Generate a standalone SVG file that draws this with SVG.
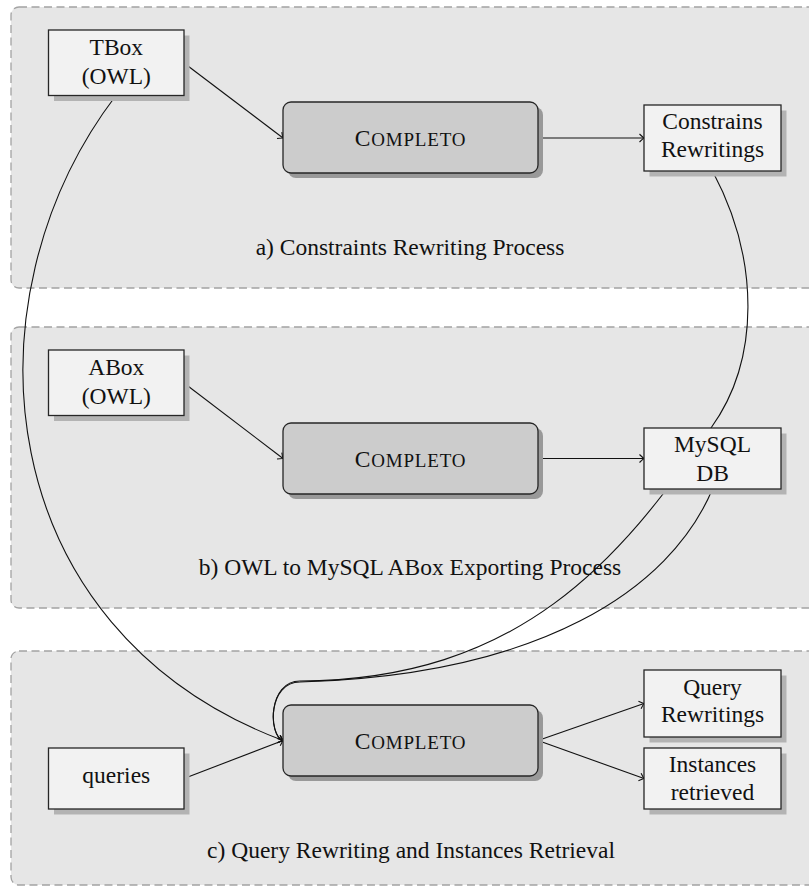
<svg xmlns="http://www.w3.org/2000/svg" width="809" height="888" viewBox="0 0 809 888">
<style>
.panel{fill:#e6e6e6;stroke:#a3a3a3;stroke-width:1.3;stroke-dasharray:8 4.5}
.box{fill:#f2f2f2;stroke:#262626;stroke-width:1.3}
.shadow{fill:#b3b3b3}
.proc{fill:#cccccc;stroke:#262626;stroke-width:1.3}
.pshadow{fill:#999999}
.t{font-family:"Liberation Serif","Times New Roman",serif;font-size:23.5px;fill:#111;text-anchor:middle}
.sc{font-size:19px}
.conn{fill:none;stroke:#111;stroke-width:1.1}
</style>
<defs>
<marker id="arr" markerUnits="userSpaceOnUse" markerWidth="12" markerHeight="12" viewBox="-6 -6 12 12" refX="0" refY="0" orient="auto">
<path d="M-4.5,-4 Q-1.2,-0.8 0,0 Q-1.2,0.8 -4.5,4" fill="none" stroke="#111" stroke-width="1.1"/>
</marker>
</defs>
<g id="panels">
<rect id="panel-a" class="panel" x="11" y="7" width="810" height="281" rx="8"/>
<rect id="panel-b" class="panel" x="11" y="327" width="810" height="281" rx="8"/>
<rect id="panel-c" class="panel" x="11" y="651" width="810" height="234" rx="8"/>
<text class="t" x="410" y="255">a) Constraints Rewriting Process</text>
<text class="t" x="410" y="575">b) OWL to MySQL ABox Exporting Process</text>
<text class="t" x="411" y="858">c) Query Rewriting and Instances Retrieval</text>
</g>
<g id="connectors">
<path class="conn" d="M184,63 L283,138" marker-end="url(#arr)"/>
<path class="conn" d="M538,138 L644,138" marker-end="url(#arr)"/>
<path class="conn" d="M184,383 L283,458.5" marker-end="url(#arr)"/>
<path class="conn" d="M538,458.5 L644,458.5" marker-end="url(#arr)"/>
<path class="conn" d="M184,778.5 L283,740.5" marker-end="url(#arr)"/>
<path class="conn" d="M538,740.5 L644,703.5" marker-end="url(#arr)"/>
<path class="conn" d="M538,740.5 L644,778.5" marker-end="url(#arr)"/>
<path class="conn" d="M116.3,95 C-40,300 -10,630 283,740.5" marker-end="url(#arr)"/>
<path class="conn" d="M712.5,171 C760,260 760,360 711,428 C620,560 520,680 300,681 C268,681 268,735 283,740.5" marker-end="url(#arr)"/>
<path class="conn" d="M712.5,489 C670,590 540,675 300,682 C268,682 268,735 283,740.5" marker-end="url(#arr)"/>
</g>
<g id="tbox">
<rect class="shadow" x="54" y="35.5" width="135.5" height="65.5"/>
<rect class="box" x="48.5" y="30" width="135.5" height="65.5"/>
<text class="t" x="116.3" y="55">TBox</text>
<text class="t" x="116.3" y="83.5">(OWL)</text>
</g>
<g id="completo-a">
<rect class="pshadow" x="288" y="107" width="255" height="71" rx="8"/>
<rect class="proc" x="283" y="102" width="255" height="71" rx="8"/>
<text class="t" x="410.5" y="146" letter-spacing="0.8">C<tspan class="sc">OMPLETO</tspan></text>
</g>
<g id="constrains">
<rect class="shadow" x="649.5" y="110.5" width="137" height="66"/>
<rect class="box" x="644" y="105" width="137" height="66"/>
<text class="t" x="712.5" y="128.5">Constrains</text>
<text class="t" x="712.5" y="156.5">Rewritings</text>
</g>
<g id="abox">
<rect class="shadow" x="54" y="355.5" width="135.5" height="65.5"/>
<rect class="box" x="48.5" y="350" width="135.5" height="65.5"/>
<text class="t" x="116.3" y="375">ABox</text>
<text class="t" x="116.3" y="403.5">(OWL)</text>
</g>
<g id="completo-b">
<rect class="pshadow" x="288" y="428" width="255" height="71" rx="8"/>
<rect class="proc" x="283" y="423" width="255" height="71" rx="8"/>
<text class="t" x="410.5" y="467" letter-spacing="0.8">C<tspan class="sc">OMPLETO</tspan></text>
</g>
<g id="mysql">
<rect class="shadow" x="649.5" y="433.5" width="137" height="61"/>
<rect class="box" x="644" y="428" width="137" height="61"/>
<text class="t" x="712.5" y="452">MySQL</text>
<text class="t" x="712.5" y="481">DB</text>
</g>
<g id="queries">
<rect class="shadow" x="54" y="753.5" width="135.5" height="61"/>
<rect class="box" x="48.5" y="748" width="135.5" height="61"/>
<text class="t" x="116.3" y="783">queries</text>
</g>
<g id="completo-c">
<rect class="pshadow" x="288" y="710" width="255" height="71" rx="8"/>
<rect class="proc" x="283" y="705" width="255" height="71" rx="8"/>
<text class="t" x="410.5" y="749" letter-spacing="0.8">C<tspan class="sc">OMPLETO</tspan></text>
</g>
<g id="query-rewritings">
<rect class="shadow" x="649.5" y="675.5" width="137" height="67"/>
<rect class="box" x="644" y="670" width="137" height="67"/>
<text class="t" x="712.5" y="695">Query</text>
<text class="t" x="712.5" y="722">Rewritings</text>
</g>
<g id="instances">
<rect class="shadow" x="649.5" y="753.5" width="137" height="61"/>
<rect class="box" x="644" y="748" width="137" height="61"/>
<text class="t" x="712.5" y="772">Instances</text>
<text class="t" x="712.5" y="800">retrieved</text>
</g>
</svg>
